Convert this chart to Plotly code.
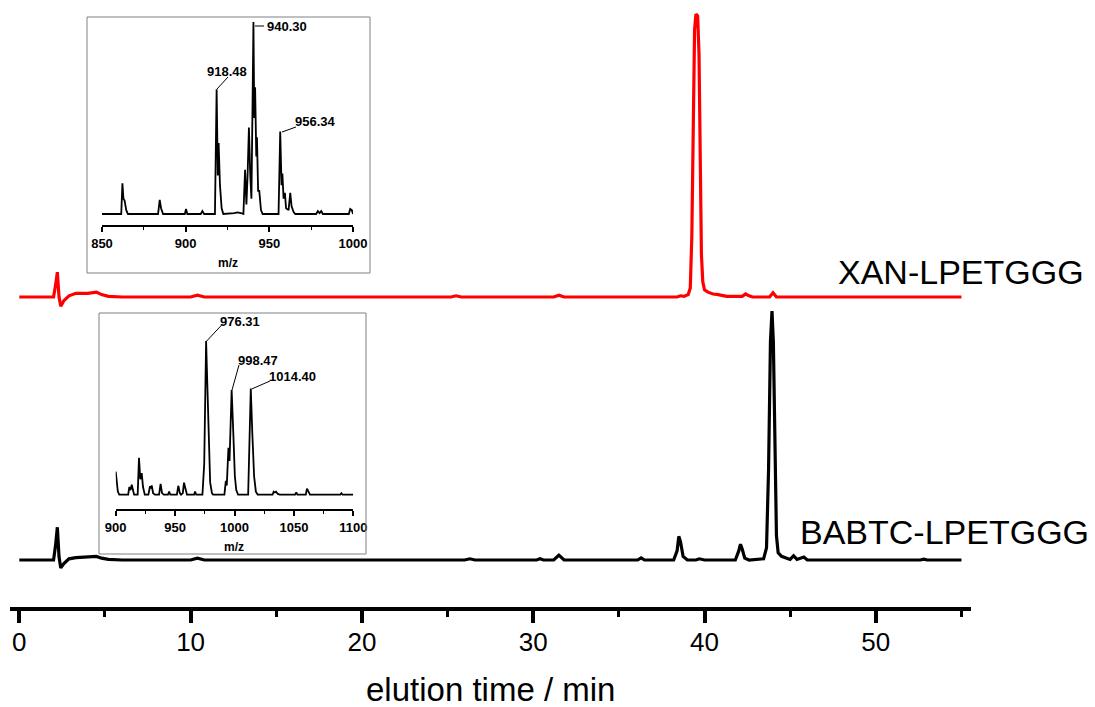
import plotly.graph_objects as go

W, H = 1095, 707

# ---------------- data ----------------
# chromatogram XAN-LPETGGG (elution time / min, relative absorbance)
xan_time = [0.0, 2.0, 2.12, 2.22, 2.32, 2.42, 2.6, 2.9, 3.3, 4.0, 4.5, 4.8, 5.2, 6.0,
            10.0, 10.4, 10.8, 25.2, 25.5, 25.8, 31.2, 31.5, 31.8, 38.4, 38.6, 38.8,
            39.05, 39.17, 39.26, 39.34, 39.42, 39.5, 39.6, 39.68, 39.75, 39.82, 39.9,
            40.0, 40.2, 40.5, 40.8, 41.0, 41.3, 42.2, 42.4, 42.6, 42.8, 43.8, 44.0, 44.2, 55.0]
xan_signal = [0.0, 0.0, 2.0, 4.1, 0.0, -1.5, -0.6, 0.2, 0.6, 0.6, 0.8, 0.4, 0.1, 0.0,
              0.0, 0.3, 0.0, 0.0, 0.2, 0.0, 0.0, 0.3, 0.0, 0.0, 0.2, 0.1,
              0.4, 1.5, 10.0, 30.0, 44.0, 46.6, 46.3, 40.0, 22.0, 7.0, 2.5,
              1.2, 0.8, 0.5, 0.4, 0.3, 0.1, 0.1, 0.5, 0.2, 0.0, 0.0, 0.7, 0.0, 0.0]

# chromatogram BABTC-LPETGGG
babtc_time = [0.0, 2.0, 2.12, 2.22, 2.32, 2.42, 2.6, 2.9, 3.3, 4.0, 4.5, 4.8, 5.2, 6.0,
              10.0, 10.4, 10.8, 26.0, 26.3, 26.6, 30.2, 30.4, 30.6, 31.2, 31.5, 31.8,
              36.1, 36.3, 36.5, 38.2, 38.4, 38.5, 38.6, 38.75, 39.0, 39.5, 39.7, 40.0,
              41.8, 42.0, 42.1, 42.2, 42.35, 42.6, 43.45, 43.62, 43.74, 43.85, 43.94,
              44.02, 44.1, 44.2, 44.3, 44.5, 44.8, 45.0, 45.2, 45.4, 45.8, 46.0,
              52.6, 52.8, 53.0, 55.0]
babtc_signal = [0.0, 0.0, 2.5, 5.4, 0.5, -1.3, -0.6, 0.2, 0.4, 0.45, 0.6, 0.3, 0.1, 0.0,
                0.0, 0.3, 0.0, 0.0, 0.2, 0.0, 0.0, 0.2, 0.0, 0.0, 0.8, 0.0,
                0.0, 0.35, 0.0, 0.0, 1.5, 3.9, 3.0, 0.6, 0.0, 0.0, 0.2, 0.0,
                0.0, 1.5, 2.6, 1.8, 0.3, 0.0, 0.2, 2.0, 15.0, 36.0, 41.0,
                36.0, 17.0, 4.0, 1.2, 0.6, 0.3, 0.1, 0.7, 0.1, 0.5, 0.0,
                0.0, 0.15, 0.0, 0.0]

# MS inset 1 (XAN-LPETGGG): m/z, relative intensity (%)
ms1_mz = [850, 861.5, 862.2, 862.8, 863.5, 864.5, 865.5, 883.5, 884.5, 885.3, 886.5,
          899.5, 900.2, 901, 909, 910, 911, 917.5, 918.5, 919.2, 919.7, 920.5, 921.5,
          922.5, 929, 931, 933, 934.5, 935.5, 936.3, 937.0, 937.8, 938.6, 939.3, 940.0,
          940.5, 941.0, 941.5, 942.2, 942.6, 943.3, 944, 945, 946, 955.5, 956.5, 957.3,
          957.8, 958.5, 959.3, 960, 961.5, 962.5, 963.3, 964.5, 965.5, 978, 979, 980,
          981, 982, 997.5, 998.3, 999.3, 1000]
ms1_int = [0, 0, 16, 8, 7, 2, 0, 0, 7.3, 3, 0,
           0, 2.6, 0, 0, 1.5, 0, 0, 65, 20, 37, 15, 3,
           0, 0.5, 0.8, 0.5, 0, 23, 5, 20, 45, 20, 8, 60,
           100, 50, 66, 30, 40, 12, 12, 2, 0, 0, 43, 15,
           21, 8, 11, 3, 2, 11, 4, 1, 0, 0, 1.5, 0.5,
           1.5, 0, 0, 2.6, 2, 0]
ms1_labels = ["918.48", "940.30", "956.34"]

# MS inset 2 (BABTC-LPETGGG)
ms2_mz = [900, 900.8, 901.8, 903, 910.5, 911.5, 912.5, 913.5, 914.5, 915.5, 918.5,
          919.6, 920.7, 921.9, 923, 924.5, 927.5, 928.9, 929.6, 930.3, 931.5, 933,
          936.5, 937.8, 939, 940.5, 944, 945, 946, 951.5, 952.7, 954, 955, 956.5,
          957.5, 958.7, 960, 966, 966.8, 967.8, 973, 974.5, 975.5, 976.1, 977, 978.3,
          979.5, 981, 982, 991.5, 992.7, 993.5, 994.9, 995.8, 997.6, 999.0, 1000.3,
          1001.5, 1003, 1011.5, 1013.0, 1013.7, 1015, 1016.5, 1018, 1019.5, 1032,
          1033, 1034, 1035, 1036.5, 1038, 1051, 1052, 1053, 1060, 1061, 1062, 1063.5,
          1089, 1090, 1091, 1100]
ms2_int = [15, 8, 2, 0, 0, 5, 3, 6.5, 2, 0, 0,
           24, 10, 14, 5, 0, 0, 5.5, 4, 6, 1, 0,
           0, 7, 1, 0, 0, 2, 0, 0, 5.8, 1, 0, 1,
           7.8, 3, 0, 0, 2, 0, 0, 20, 80, 100, 75, 30,
           8, 1, 0, 0, 9, 6, 30.5, 22, 68, 40, 12,
           3, 0, 0, 40, 69, 40, 12, 2, 0, 0,
           2, 1.5, 2, 0.5, 0, 0, 1.5, 0, 0, 4, 2, 0,
           0, 1, 0, 0]
ms2_labels = ["976.31", "998.47", "1014.40"]

trace_names = ["XAN-LPETGGG", "BABTC-LPETGGG"]
x_ticks = [0, 10, 20, 30, 40, 50]
ms1_ticks = [850, 900, 950, 1000]
ms2_ticks = [900, 950, 1000, 1050, 1100]

# ---------------- layout helpers ----------------
def px(x):
    return x / W

def py(y):
    return 1 - y / H

XAN_OFFSET = 51.07
BABTC_OFFSET = 7.74

fig = go.Figure()

fig.add_trace(go.Scatter(x=xan_time, y=[v + XAN_OFFSET for v in xan_signal], mode="lines",
                         line=dict(color="#ff0000", width=3.2), xaxis="x", yaxis="y",
                         showlegend=False, hoverinfo="skip"))
fig.add_trace(go.Scatter(x=babtc_time, y=[v + BABTC_OFFSET for v in babtc_signal], mode="lines",
                         line=dict(color="#000000", width=3.2), xaxis="x", yaxis="y",
                         showlegend=False, hoverinfo="skip"))
fig.add_trace(go.Scatter(x=ms1_mz, y=ms1_int, mode="lines", line=dict(color="#000000", width=1.8),
                         xaxis="x2", yaxis="y2", showlegend=False, hoverinfo="skip"))
fig.add_trace(go.Scatter(x=ms2_mz, y=ms2_int, mode="lines", line=dict(color="#000000", width=1.8),
                         xaxis="x3", yaxis="y3", showlegend=False, hoverinfo="skip"))

FONT = "Liberation Sans, Arial, sans-serif"

inset_axis = dict(showline=True, linecolor="black", linewidth=1.8, ticks="outside",
                  ticklen=5, tickwidth=1.5, tickcolor="black", showgrid=False, zeroline=False,
                  automargin=False,
                  tickfont=dict(family=FONT, size=13, color="black", weight="bold"),
                  minor=dict(ticks="outside", ticklen=3, tickwidth=1.2, tickcolor="black", dtick=25))

fig.update_layout(
    template="none",
    width=W, height=H,
    margin=dict(l=0, r=0, t=0, b=0, pad=0),
    paper_bgcolor="white", plot_bgcolor="rgba(0,0,0,0)",
    xaxis=dict(domain=[px(10.4), px(970.7)], range=[-0.52, 55.54], anchor="y",
               showline=True, linecolor="black", linewidth=4, ticks="outside", ticklen=12,
               tickwidth=3.5, tickcolor="black", tickvals=x_ticks, showgrid=False, zeroline=False,
               automargin=False, ticklabelstandoff=-3,
               tickfont=dict(family=FONT, size=26, color="black"),
               minor=dict(ticks="outside", ticklen=6, tickwidth=3, tickcolor="black", dtick=5)),
    yaxis=dict(domain=[py(607), 1], range=[0, 100], visible=False, anchor="x", automargin=False),
    xaxis2=dict(domain=[px(102), px(353)], range=[850, 1000], anchor="y2", tickvals=ms1_ticks,
                **inset_axis),
    yaxis2=dict(domain=[py(225), py(20)], range=[-5.73, 101], visible=False, anchor="x2",
                automargin=False),
    xaxis3=dict(domain=[px(115.7), px(353.3)], range=[900, 1100], anchor="y3", tickvals=ms2_ticks,
                **inset_axis),
    yaxis3=dict(domain=[py(509), py(330)], range=[-9.3, 107.1], visible=False, anchor="x3",
                automargin=False),
)

shapes = [
    dict(type="rect", xref="paper", yref="paper", x0=px(87), x1=px(370), y0=py(17), y1=py(273),
         line=dict(color="#808080", width=1)),
    dict(type="rect", xref="paper", yref="paper", x0=px(99), x1=px(366), y0=py(313), y1=py(554),
         line=dict(color="#808080", width=1)),
]
leaders = [((217, 89), (228, 77)), ((255, 26), (264, 26)), ((282, 132), (296, 127)),
           ((206.7, 341), (221.7, 325)), ((232, 390), (239, 365)), ((251.7, 389), (270, 381))]
for (x0, y0), (x1, y1) in leaders:
    shapes.append(dict(type="line", xref="paper", yref="paper", x0=px(x0), y0=py(y0),
                       x1=px(x1), y1=py(y1), line=dict(color="black", width=1)))
fig.update_layout(shapes=shapes)

ann = []
lab_font = dict(family=FONT, size=13, color="black", weight="bold")
ms_label_pos = [(227, 72, "center"), (265, 27, "left"), (315, 122, "center")]
for txt, (x, y, xa) in zip(ms1_labels, ms_label_pos):
    ann.append(dict(text=txt, x=px(x), y=py(y), xref="paper", yref="paper", xanchor=xa,
                    yanchor="middle", showarrow=False, font=lab_font))
ms2_label_pos = [(240, 321, "center"), (258, 360, "center"), (292, 376, "center")]
for txt, (x, y, xa) in zip(ms2_labels, ms2_label_pos):
    ann.append(dict(text=txt, x=px(x), y=py(y), xref="paper", yref="paper", xanchor=xa,
                    yanchor="middle", showarrow=False, font=lab_font))
ann.append(dict(text="m/z", x=px(228), y=py(263), xref="paper", yref="paper", showarrow=False,
                xanchor="center", yanchor="middle", font=dict(family=FONT, size=12, color="black", weight="bold")))
ann.append(dict(text="m/z", x=px(234), y=py(547), xref="paper", yref="paper", showarrow=False,
                xanchor="center", yanchor="middle", font=dict(family=FONT, size=12, color="black", weight="bold")))
ann.append(dict(text=trace_names[0], x=px(836), y=py(272), xref="paper", yref="paper", showarrow=False,
                xanchor="left", yanchor="middle", font=dict(family=FONT, size=34, color="black")))
ann.append(dict(text=trace_names[1], x=px(798), y=py(532), xref="paper", yref="paper", showarrow=False,
                xanchor="left", yanchor="middle", font=dict(family=FONT, size=34, color="black")))
ann.append(dict(text="elution time / min", x=px(490), y=py(689), xref="paper", yref="paper",
                showarrow=False, xanchor="center", yanchor="middle",
                font=dict(family=FONT, size=33, color="black")))
fig.update_layout(annotations=ann)

fig.write_html("out.html", config={"displayModeBar": False},
               post_script="document.body.style.margin='0';document.body.style.overflow='hidden';")
